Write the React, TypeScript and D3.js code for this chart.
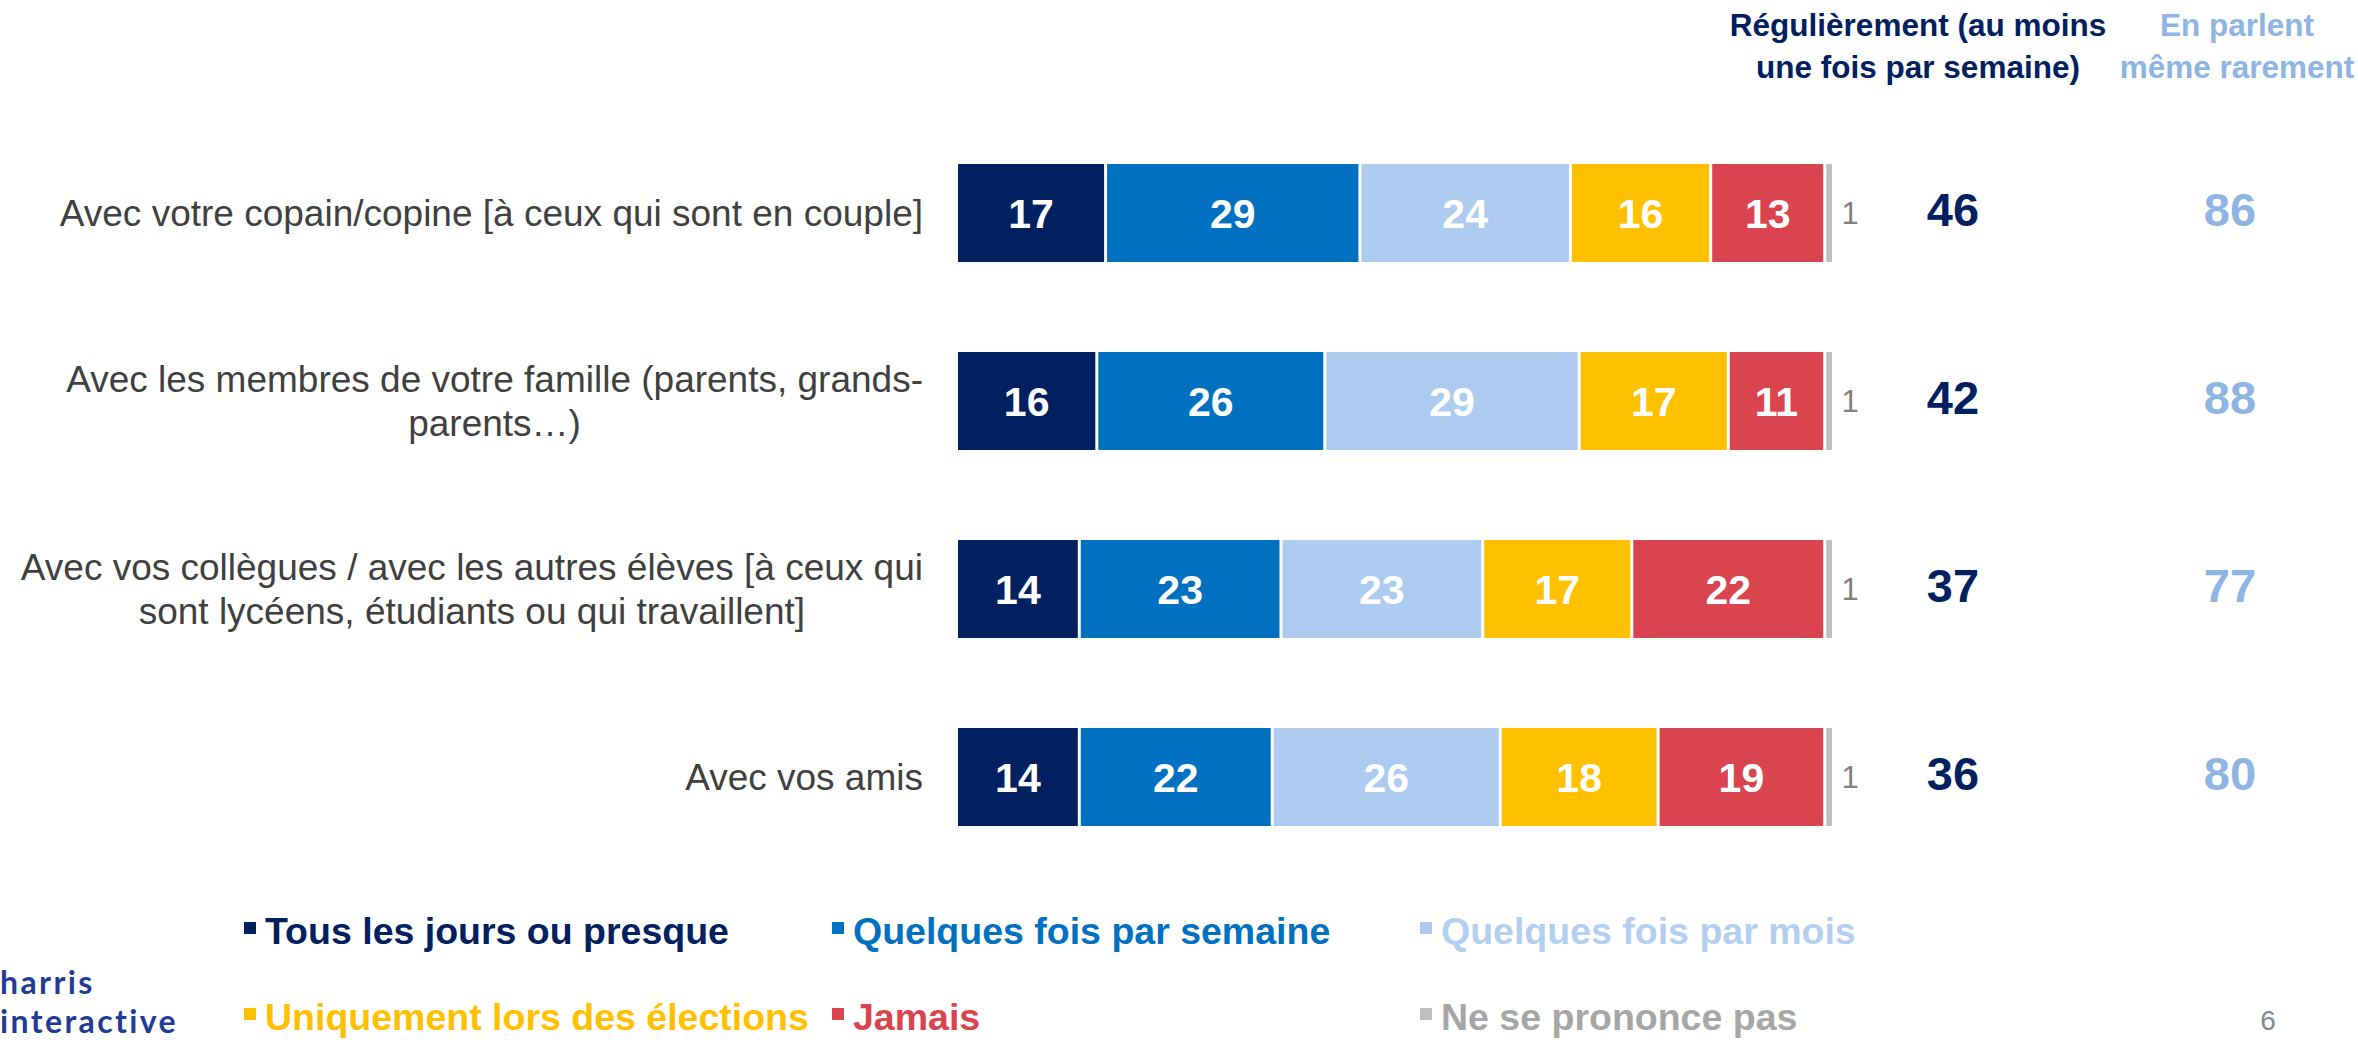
import React from "react";
import * as d3 from "d3";

const categories: string[][] = [
  ["Avec votre copain/copine [à ceux qui sont en couple]"],
  ["Avec les membres de votre famille (parents, grands-", "parents…)"],
  ["Avec vos collègues / avec les autres élèves [à ceux qui", "sont lycéens, étudiants ou qui travaillent]"],
  ["Avec vos amis"],
];

const seriesNames = [
  "Tous les jours ou presque",
  "Quelques fois par semaine",
  "Quelques fois par mois",
  "Uniquement lors des élections",
  "Jamais",
  "Ne se prononce pas",
];
const seriesColors = ["#002060", "#0070c0", "#adcbee", "#ffc000", "#d9444f", "#bfbfbf"];
const legendTextColors = ["#002060", "#0070c0", "#b2cfef", "#ffc000", "#d9444f", "#a6a6a6"];

const tousLesJours = [17, 16, 14, 14];
const quelquesFoisSemaine = [29, 26, 23, 22];
const quelquesFoisMois = [24, 29, 23, 26];
const lorsElections = [16, 17, 17, 18];
const jamais = [13, 11, 22, 19];
const nspp = [1, 1, 1, 1];

const regulierement = [46, 42, 37, 36];
const memeRarement = [86, 88, 77, 80];

const headerRegulier = ["Régulièrement (au moins", "une fois par semaine)"];
const headerRarement = ["En parlent", "même rarement"];
const logoLines = ["harris", "interactive"];

const series = [tousLesJours, quelquesFoisSemaine, quelquesFoisMois, lorsElections, jamais, nspp];

const W = 2358;
const H = 1040;
const FONT = "'Liberation Sans', Arial, sans-serif";
const LABEL_SIZE = 37;

let measureCtx: CanvasRenderingContext2D | null = null;
function measure(s: string, size: number): number {
  if (typeof document !== "undefined") {
    if (!measureCtx) measureCtx = document.createElement("canvas").getContext("2d");
    if (measureCtx) {
      measureCtx.font = `${size}px 'Liberation Sans', Arial, sans-serif`;
      return measureCtx.measureText(s).width;
    }
  }
  return s.length * size * 0.47;
}

export default function App() {
  const x = d3.scaleLinear().domain([0, 100]).range([958, 1835]);
  const y = d3
    .scaleBand<number>()
    .domain(categories.map((_, i) => i))
    .range([164, 826])
    .paddingInner(0.4787)
    .paddingOuter(0);
  const bw = y.bandwidth();
  const gap = 3;
  const labelRight = 923;

  const stacked = d3
    .stack<number, number>()
    .keys(series.map((_, i) => i))
    .value((row, k) => series[k as number][row])(categories.map((_, i) => i));

  const legendCols = [244, 832, 1420];
  const legendRows = [944, 1030];

  return (
    <svg
      width={W}
      height={H}
      style={{ position: "absolute", left: 0, top: 0, background: "#fff" }}
      fontFamily={FONT}
    >
      <rect x={0} y={0} width={W} height={H} fill="#ffffff" />

      {/* headers */}
      {headerRegulier.map((t, i) => (
        <text
          key={"hr" + i}
          x={1918}
          y={36 + i * 42}
          textAnchor="middle"
          fontSize={31.5}
          fontWeight="bold"
          fill="#002060"
        >
          {t}
        </text>
      ))}
      {headerRarement.map((t, i) => (
        <text
          key={"hm" + i}
          x={2237}
          y={36 + i * 42}
          textAnchor="middle"
          fontSize={31.5}
          fontWeight="bold"
          fill="#8db4e2"
        >
          {t}
        </text>
      ))}

      {/* category labels */}
      {categories.map((lines, i) => {
        const cy = (y(i) as number) + bw / 2;
        const lh = 44;
        const start = cy - ((lines.length - 1) * lh) / 2;
        const maxW = Math.max(...lines.map((l) => measure(l, LABEL_SIZE)));
        const cx = labelRight - maxW / 2;
        return lines.map((ln, j) => (
          <text
            key={"c" + i + "-" + j}
            x={cx}
            y={start + j * lh}
            dy="0.35em"
            textAnchor="middle"
            fontSize={LABEL_SIZE}
            fill="#404040"
          >
            {ln}
          </text>
        ));
      })}

      {/* bars */}
      {stacked.map((layer, k) =>
        layer.map((d, i) => {
          const x0 = x(d[0]);
          const x1 = x(d[1]);
          const yy = y(i) as number;
          const w = Math.max(0, x1 - x0 - gap);
          const isNsp = k === series.length - 1;
          return (
            <g key={"b" + k + "-" + i}>
              <rect x={x0} y={yy} width={w} height={bw} fill={seriesColors[k]} />
              {isNsp ? (
                <text
                  x={x1 + 15}
                  y={yy + bw / 2}
                  dy="0.35em"
                  textAnchor="middle"
                  fontSize={31}
                  fill="#7f7f7f"
                >
                  {series[k][i]}
                </text>
              ) : (
                <text
                  x={x0 + w / 2}
                  y={yy + bw / 2}
                  dy="0.36em"
                  textAnchor="middle"
                  fontSize={41}
                  fontWeight="bold"
                  fill="#ffffff"
                >
                  {series[k][i]}
                </text>
              )}
            </g>
          );
        })
      )}

      {/* summary columns */}
      {categories.map((_, i) => {
        const cy = (y(i) as number) + bw / 2;
        return (
          <g key={"s" + i}>
            <text x={1953} y={cy - 4} dy="0.36em" textAnchor="middle" fontSize={47} fontWeight="bold" fill="#002060">
              {regulierement[i]}
            </text>
            <text x={2230} y={cy - 4} dy="0.36em" textAnchor="middle" fontSize={47} fontWeight="bold" fill="#8db4e2">
              {memeRarement[i]}
            </text>
          </g>
        );
      })}

      {/* legend */}
      {seriesNames.map((name, k) => {
        const col = k === 3 ? 0 : k === 4 ? 1 : k === 5 ? 2 : k;
        const row = k < 3 ? 0 : 1;
        const lx = legendCols[col];
        const ly = legendRows[row];
        return (
          <g key={"l" + k}>
            <rect x={lx} y={ly - 22} width={12} height={12} fill={seriesColors[k]} />
            <text x={lx + 21} y={ly} fontSize={37.5} fontWeight="bold" fill={legendTextColors[k]}>
              {name}
            </text>
          </g>
        );
      })}

      {/* logo */}
      {logoLines.map((ln, i) => (
        <text
          key={"lg" + i}
          x={0}
          y={994 + i * 39}
          fontFamily="Lato, 'Open Sans', sans-serif"
          fontWeight="bold"
          fontSize={32}
          letterSpacing={2.4}
          fill="#1f3c94"
        >
          {ln}
        </text>
      ))}

      {/* page number */}
      <text x={2268} y={1030} textAnchor="middle" fontSize={28} fill="#7f8c8d">
        6
      </text>
    </svg>
  );
}
